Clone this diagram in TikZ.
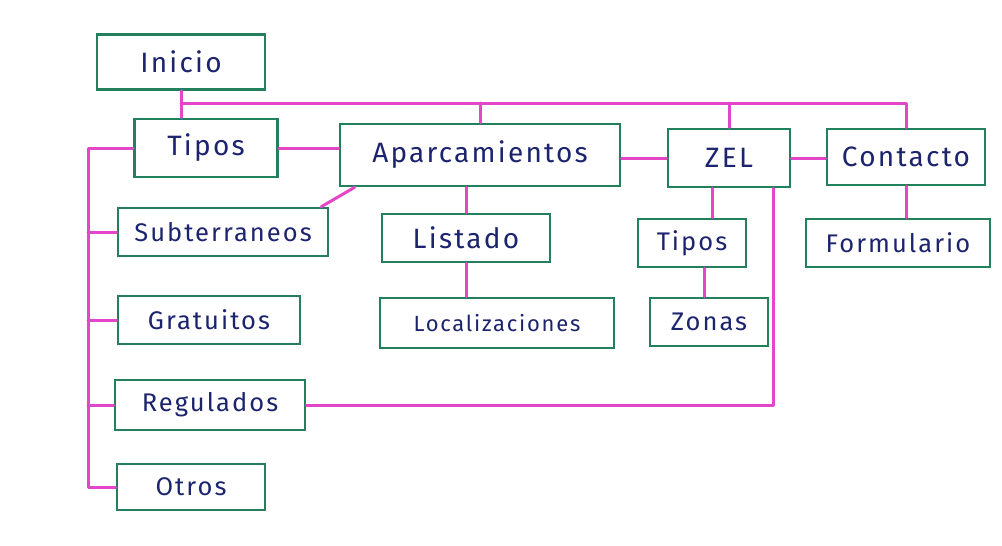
\documentclass[tikz,border=0pt]{standalone}
\usepackage{fontspec}
\setmainfont{Fira Sans}[LetterSpace=8]
\definecolor{boxgreen}{RGB}{34,128,92}
\definecolor{linkpink}{RGB}{228,70,200}
\definecolor{ink}{RGB}{28,36,110}
\begin{document}
\begin{tikzpicture}[x=1pt,y=-1pt,
  box/.style={draw=boxgreen, line width=2.6pt, inner sep=0pt, text=ink,
    font=\fontsize{28}{31}\selectfont},
  small/.style={font=\fontsize{25.5}{28}\selectfont},
  link/.style={draw=linkpink, line width=3pt, line cap=round, line join=round}]
\useasboundingbox[fill=white] (0,0) rectangle (1002,546);
% nodes
\node[box, minimum width=168pt, minimum height=55pt] (inicio) at (181,62) {Inicio};
\node[box, minimum width=143pt, minimum height=58pt] (tipos) at (206,148) {Tipos};
\node[box, minimum width=280pt, minimum height=62pt] (aparc) at (480,155) {Aparcamientos};
\node[box, minimum width=122pt, minimum height=58pt] (zel) at (729,158) {ZEL};
\node[box, minimum width=158pt, minimum height=56pt] (contacto) at (906,157) {Contacto};
\node[box, small, minimum width=210pt, minimum height=48pt] (subt) at (223,232) {Subterraneos};
\node[box, minimum width=168pt, minimum height=48pt] (listado) at (466,238) {Listado};
\node[box, small, minimum width=108pt, minimum height=48pt] (tiposz) at (692,243) {Tipos};
\node[box, small, minimum width=184pt, minimum height=48pt] (form) at (898,243) {Formulario};
\node[box, small, minimum width=182pt, minimum height=48pt] (grat) at (209,320) {Gratuitos};
\node[box, minimum width=234pt, minimum height=50pt, font=\fontsize{22}{25}\selectfont] (local) at (497,323) {Localizaciones};
\node[box, small, minimum width=118pt, minimum height=48pt] (zonas) at (709,322) {Zonas};
\node[box, small, minimum width=190pt, minimum height=50pt] (reg) at (210,405) {Regulados};
\node[box, small, minimum width=148pt, minimum height=46pt] (otros) at (191,487) {Otros};
% helper coordinates
\coordinate (bus) at (0,103);
\coordinate (spine) at (88,0);
\coordinate (zx) at (712,0);
\coordinate (zy) at (704,0);
\coordinate (zr) at (773,0);
% connectors
\draw[link] (inicio.south) -- (inicio.south |- tipos.north);
\draw[link] (inicio.south |- bus) -- (contacto.north |- bus) -- (contacto.north);
\draw[link] (aparc.north) -- (aparc.north |- bus);
\draw[link] (zel.north) -- (zel.north |- bus);
\draw[link] (tipos.east) -- (tipos.east -| aparc.west);
\draw[link] (aparc.east |- zel.west) -- (zel.west);
\draw[link] (zel.east) -- (zel.east -| contacto.west);
\draw[link] (tipos.west) -- (tipos.west -| spine) |- (otros.west);
\draw[link] (subt.west) -- (subt.west -| spine);
\draw[link] (grat.west) -- (grat.west -| spine);
\draw[link] (reg.west) -- (reg.west -| spine);
\draw[link] ([xshift=16pt]aparc.south west) -- ([xshift=-8pt]subt.north east);
\draw[link] (aparc.south -| listado.north) -- (listado.north);
\draw[link] (listado.south) -- (listado.south |- local.north);
\draw[link] (zx |- zel.south) -- (zx |- tiposz.north);
\draw[link] (zy |- tiposz.south) -- (zy |- zonas.north);
\draw[link] (zr |- zel.south) |- (reg.east);
\draw[link] (contacto.south) -- (contacto.south |- form.north);
\end{tikzpicture}
\end{document}
